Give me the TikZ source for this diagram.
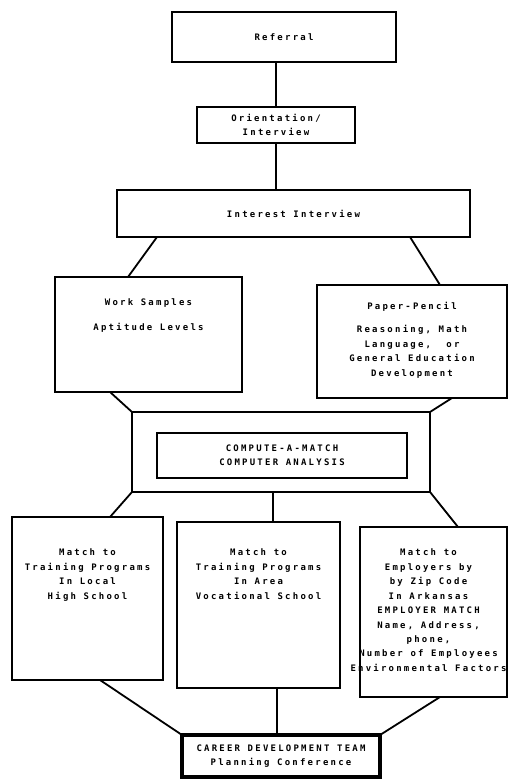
\documentclass[tikz,border=0pt]{standalone}
\usepackage{fontspec}
\newfontfamily\dotfont[LetterSpace=25]{DejaVu Sans Mono}
\usetikzlibrary{positioning}

\begin{document}
\begin{tikzpicture}[x=1bp,y=-1bp,
  every node/.style={font=\dotfont\bfseries\fontsize{9}{14.5}\selectfont,align=center},
  box/.style={draw,line width=1.8bp,inner sep=0pt,outer sep=0pt},
  txt/.style={inner sep=0pt,outer sep=0pt},
  link/.style={line width=1.8bp}]
  \useasboundingbox (0,0) rectangle (510,779);
  \node[box,minimum width=224bp,minimum height=50bp] (refl) at (284,37) {Referral};
  \node[box,minimum width=158bp,minimum height=36bp] (orient) at (276,125) {Orientation/\\Interview};
  \node[box,minimum width=353bp,minimum height=47bp] (interest) at (293.5,213.5) {Interest Interview};
  \node[box,minimum width=187bp,minimum height=115bp] (work) at (148.5,334.5) {};
  \node[box,minimum width=190bp,minimum height=113bp] (paper) at (412,341.5) {};
  \node[box,minimum width=298bp,minimum height=80bp] (ring) at (281,452) {};
  \node[box,minimum width=250bp,minimum height=45bp] (compute) at (282,455.5)
    {COMPUTE-A-MATCH\\COMPUTER ANALYSIS};
  \node[box,minimum width=151bp,minimum height=163bp] (local) at (87.5,598.5) {};
  \node[box,minimum width=163bp,minimum height=166bp] (area) at (258.5,605) {};
  \node[box,minimum width=147bp,minimum height=170bp] (employ) at (433.5,612) {};
  \node[box,line width=3.5bp,minimum width=198bp,minimum height=42bp] (career) at (281,756)
    {CAREER DEVELOPMENT TEAM\\Planning Conference};

  \node[txt,below=22bp of work.north] (worktxt) {Work Samples\\[10bp]Aptitude Levels};
  \node[txt,below=17bp of paper.north] (papertxt)
    {Paper-Pencil\\[9bp]Reasoning, Math\\Language,\ \ or\\General Education\\Development};
  \node[txt,below=32bp of local.north] (localtxt)
    {Match to\\Training Programs\\In Local\\High School};
  \node[txt,below=27bp of area.north] (areatxt)
    {Match to\\Training Programs\\In Area\\Vocational School};
  \node[txt,below=22bp of employ.north,xshift=-5bp] (employtxt)
    {Match to\\Employers by\\by Zip Code\\In Arkansas\\EMPLOYER MATCH\\Name, Address,\\phone,\\Number of Employees\\Environmental Factors};

  \draw[link] (orient.north) -- (orient.north |- refl.south);
  \draw[link] (orient.south) -- (orient.south |- interest.north);
  \draw[link] ([xshift=40bp]interest.south west) -- ([xshift=73bp]work.north west);
  \draw[link] ([xshift=-60bp]interest.south east) -- ([xshift=123bp]paper.north west);
  \draw[link] ([xshift=55bp]work.south west) -- (ring.north west);
  \draw[link] ([xshift=135bp]paper.south west) -- (ring.north east);
  \draw[link] (ring.south west) -- ([xshift=98bp]local.north west);
  \draw[link] ([xshift=-8bp]ring.south) -- ([xshift=14.5bp]area.north);
  \draw[link] (ring.south east) -- ([xshift=98bp]employ.north west);
  \draw[link] ([xshift=88bp]local.south west) -- (career.north west);
  \draw[link] ([xshift=18.5bp]area.south) -- ([xshift=-4bp]career.north);
  \draw[link] ([xshift=80bp]employ.south west) -- (career.north east);
\end{tikzpicture}
\end{document}
